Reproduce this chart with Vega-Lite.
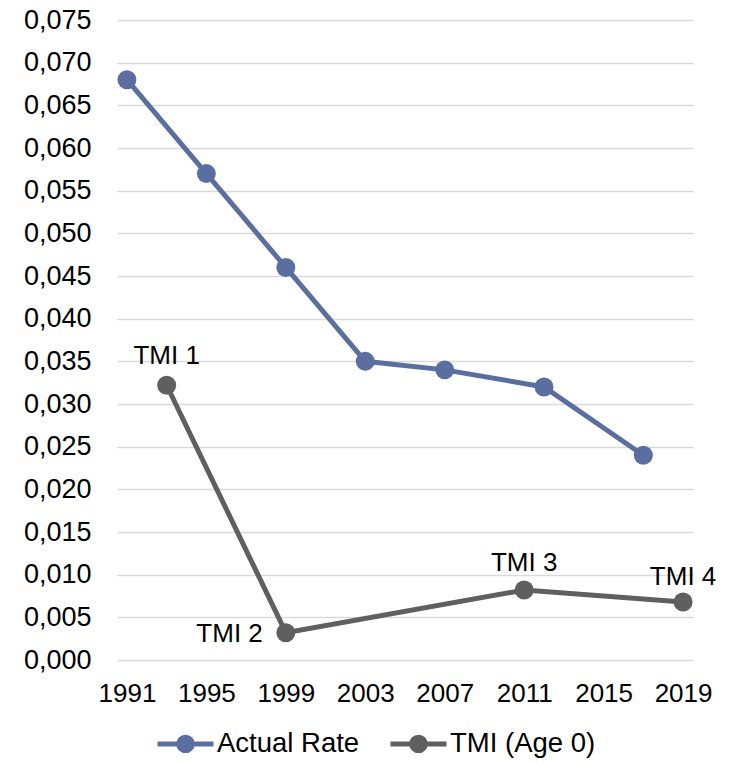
{
  "$schema": "https://vega.github.io/schema/vega-lite/v6.json",
  "width": 576,
  "height": 640,
  "autosize": {"type": "none"},
  "padding": {"left": 117, "top": 20, "right": 39, "bottom": 104},
  "background": "white",
  "config": {
    "view": {"stroke": null},
    "font": "Liberation Sans",
    "axis": {"labelFont": "Liberation Sans", "labelFontSize": 26, "labelColor": "#000000", "ticks": false, "tickSize": 0, "domain": false, "title": null},
    "legend": {"labelFont": "Liberation Sans", "labelFontSize": 27.5, "labelColor": "#000000"}
  },
  "data": {
    "values": [
      {"year": 1991, "value": 0.068, "series": "Actual Rate"},
      {"year": 1995, "value": 0.057, "series": "Actual Rate"},
      {"year": 1999, "value": 0.046, "series": "Actual Rate"},
      {"year": 2003, "value": 0.035, "series": "Actual Rate"},
      {"year": 2007, "value": 0.034, "series": "Actual Rate"},
      {"year": 2012, "value": 0.032, "series": "Actual Rate"},
      {"year": 2017, "value": 0.024, "series": "Actual Rate"},
      {"year": 1993, "value": 0.0322, "series": "TMI (Age 0)", "label": "TMI 1"},
      {"year": 1999, "value": 0.0032, "series": "TMI (Age 0)", "label": "TMI 2"},
      {"year": 2011, "value": 0.0082, "series": "TMI (Age 0)", "label": "TMI 3"},
      {"year": 2019, "value": 0.0068, "series": "TMI (Age 0)", "label": "TMI 4"}
    ]
  },
  "encoding": {
    "x": {
      "field": "year", "type": "quantitative",
      "scale": {"domain": [1990.5, 2019.5], "nice": false, "zero": false},
      "axis": {"values": [1991, 1995, 1999, 2003, 2007, 2011, 2015, 2019], "format": "d", "grid": false, "labelPadding": 20, "labelFlush": false}
    },
    "y": {
      "field": "value", "type": "quantitative",
      "scale": {"domain": [0, 0.075], "nice": false},
      "axis": {
        "values": [0, 0.005, 0.01, 0.015, 0.02, 0.025, 0.03, 0.035, 0.04, 0.045, 0.05, 0.055, 0.06, 0.065, 0.07, 0.075],
        "labelExpr": "replace(format(datum.value, '.3f'), '.', ',')",
        "labelFontSize": 27,
        "grid": true, "gridColor": "#D9D9D9", "gridWidth": 1.5,
        "labelPadding": 26
      }
    }
  },
  "layer": [
    {
      "mark": {"type": "line", "strokeWidth": 5},
      "encoding": {
        "color": {
          "field": "series", "type": "nominal",
          "scale": {"domain": ["Actual Rate", "TMI (Age 0)"], "range": ["#5A6E9F", "#5F5F5F"]},
          "legend": {
            "title": null,
            "orient": "none",
            "legendX": 38,
            "legendY": 693,
            "direction": "horizontal",
            "symbolType": "M-1,0H1M-0.24,0A0.24,0.24,0,1,1,0.24,0A0.24,0.24,0,1,1,-0.24,0Z",
            "symbolSize": 3136,
            "symbolStrokeWidth": 5,
            "labelOffset": 1,
            "columnPadding": 20,
            "encode": {
              "symbols": {"update": {"fill": {"scale": "color", "field": "value"}, "stroke": {"scale": "color", "field": "value"}, "strokeWidth": {"value": 5}, "opacity": {"value": 1}}}
            }
          }
        }
      }
    },
    {
      "mark": {"type": "point", "filled": true, "size": 360, "opacity": 1},
      "encoding": {
        "color": {"field": "series", "type": "nominal", "legend": null}
      }
    },
    {
      "transform": [{"filter": "datum.label == 'TMI 1'"}],
      "mark": {"type": "text", "fontSize": 26, "color": "#000000", "align": "center", "baseline": "middle", "dy": -29},
      "encoding": {"text": {"field": "label"}}
    },
    {
      "transform": [{"filter": "datum.label == 'TMI 2'"}],
      "mark": {"type": "text", "fontSize": 26, "color": "#000000", "align": "right", "baseline": "middle", "dx": -23, "dy": 1},
      "encoding": {"text": {"field": "label"}}
    },
    {
      "transform": [{"filter": "datum.label == 'TMI 3'"}],
      "mark": {"type": "text", "fontSize": 26, "color": "#000000", "align": "center", "baseline": "middle", "dy": -27},
      "encoding": {"text": {"field": "label"}}
    },
    {
      "transform": [{"filter": "datum.label == 'TMI 4'"}],
      "mark": {"type": "text", "fontSize": 26, "color": "#000000", "align": "center", "baseline": "middle", "dy": -25},
      "encoding": {"text": {"field": "label"}}
    }
  ]
}
